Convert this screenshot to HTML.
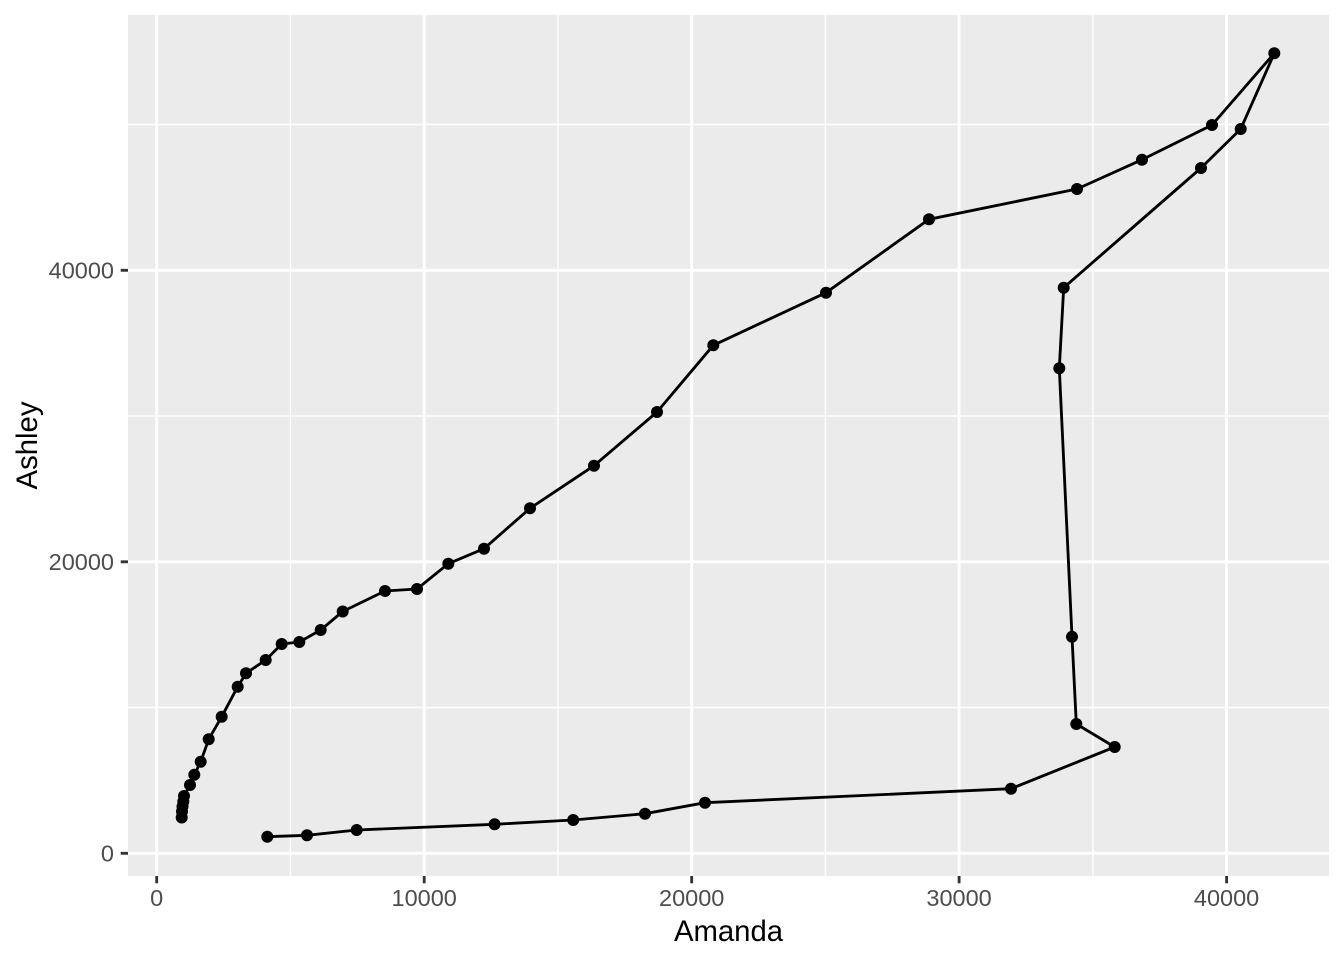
<!DOCTYPE html>
<html><head><meta charset="utf-8"><style>
html,body{margin:0;padding:0;background:#fff;}
svg{display:block;}
text{font-family:"Liberation Sans",Arial,sans-serif;}
</style></head><body>
<svg width="1344" height="960" viewBox="0 0 1344 960" xmlns="http://www.w3.org/2000/svg">
<rect x="0" y="0" width="1344" height="960" fill="#fff"/>
<rect x="128" y="15" width="1201" height="861" fill="#EBEBEB"/>
<g stroke="#fff" stroke-width="1.42" fill="none">
<line x1="290.4" y1="15" x2="290.4" y2="876"/>
<line x1="557.9" y1="15" x2="557.9" y2="876"/>
<line x1="825.4" y1="15" x2="825.4" y2="876"/>
<line x1="1092.9" y1="15" x2="1092.9" y2="876"/>
<line x1="128" y1="707.5" x2="1329" y2="707.5"/>
<line x1="128" y1="416" x2="1329" y2="416"/>
<line x1="128" y1="124.5" x2="1329" y2="124.5"/>
</g>
<g stroke="#fff" stroke-width="2.84" fill="none">
<line x1="156.7" y1="15" x2="156.7" y2="876"/>
<line x1="424.2" y1="15" x2="424.2" y2="876"/>
<line x1="691.7" y1="15" x2="691.7" y2="876"/>
<line x1="959.1" y1="15" x2="959.1" y2="876"/>
<line x1="1226.6" y1="15" x2="1226.6" y2="876"/>
<line x1="128" y1="853.3" x2="1329" y2="853.3"/>
<line x1="128" y1="561.8" x2="1329" y2="561.8"/>
<line x1="128" y1="270.3" x2="1329" y2="270.3"/>
</g>
<polyline fill="none" stroke="#000" stroke-width="2.84" stroke-linejoin="round" points="181.7,817.5 182,811.5 182.5,806.5 183.3,801.5 184,796 190,785 194.3,774.8 200.7,761.7 208.7,739.3 221.7,716.7 237.7,686.7 246,673.3 265.7,660 281.7,644 299.3,642 320.7,630 342.7,611.5 385,591 417,589 448.3,563.7 484,548.7 530,508.3 594,465.7 657,412 713.3,345.3 826,292.7 929,219.3 1077,189 1142,159.7 1212,125 1274.3,53.3 1240.7,129 1201,168 1063.7,287.7 1059.3,368.3 1072,636.7 1076.3,724 1114.7,747 1011,788.7 705,802.7 645,813.7 573.2,820 494.6,824.3 356.7,830 307,835.3 267.3,836.7"/>
<g fill="#000">
<circle cx="181.7" cy="817.5" r="6"/><circle cx="182" cy="811.5" r="6"/><circle cx="182.5" cy="806.5" r="6"/><circle cx="183.3" cy="801.5" r="6"/><circle cx="184" cy="796" r="6"/><circle cx="190" cy="785" r="6"/><circle cx="194.3" cy="774.8" r="6"/><circle cx="200.7" cy="761.7" r="6"/><circle cx="208.7" cy="739.3" r="6"/><circle cx="221.7" cy="716.7" r="6"/><circle cx="237.7" cy="686.7" r="6"/><circle cx="246" cy="673.3" r="6"/><circle cx="265.7" cy="660" r="6"/><circle cx="281.7" cy="644" r="6"/><circle cx="299.3" cy="642" r="6"/><circle cx="320.7" cy="630" r="6"/><circle cx="342.7" cy="611.5" r="6"/><circle cx="385" cy="591" r="6"/><circle cx="417" cy="589" r="6"/><circle cx="448.3" cy="563.7" r="6"/><circle cx="484" cy="548.7" r="6"/><circle cx="530" cy="508.3" r="6"/><circle cx="594" cy="465.7" r="6"/><circle cx="657" cy="412" r="6"/><circle cx="713.3" cy="345.3" r="6"/><circle cx="826" cy="292.7" r="6"/><circle cx="929" cy="219.3" r="6"/><circle cx="1077" cy="189" r="6"/><circle cx="1142" cy="159.7" r="6"/><circle cx="1212" cy="125" r="6"/><circle cx="1274.3" cy="53.3" r="6"/><circle cx="1240.7" cy="129" r="6"/><circle cx="1201" cy="168" r="6"/><circle cx="1063.7" cy="287.7" r="6"/><circle cx="1059.3" cy="368.3" r="6"/><circle cx="1072" cy="636.7" r="6"/><circle cx="1076.3" cy="724" r="6"/><circle cx="1114.7" cy="747" r="6"/><circle cx="1011" cy="788.7" r="6"/><circle cx="705" cy="802.7" r="6"/><circle cx="645" cy="813.7" r="6"/><circle cx="573.2" cy="820" r="6"/><circle cx="494.6" cy="824.3" r="6"/><circle cx="356.7" cy="830" r="6"/><circle cx="307" cy="835.3" r="6"/><circle cx="267.3" cy="836.7" r="6"/>
</g>
<g stroke="#333" stroke-width="2.84">
<line x1="156.7" y1="876" x2="156.7" y2="883.3"/>
<line x1="424.2" y1="876" x2="424.2" y2="883.3"/>
<line x1="691.7" y1="876" x2="691.7" y2="883.3"/>
<line x1="959.1" y1="876" x2="959.1" y2="883.3"/>
<line x1="1226.6" y1="876" x2="1226.6" y2="883.3"/>
<line x1="120.7" y1="853.3" x2="128" y2="853.3"/>
<line x1="120.7" y1="561.8" x2="128" y2="561.8"/>
<line x1="120.7" y1="270.3" x2="128" y2="270.3"/>
</g>
<g fill="#4D4D4D" font-size="23.5" text-anchor="middle">
<text x="156.7" y="906">0</text>
<text x="424.2" y="906">10000</text>
<text x="691.7" y="906">20000</text>
<text x="959.1" y="906">30000</text>
<text x="1226.6" y="906">40000</text>
</g>
<g fill="#4D4D4D" font-size="23.5" text-anchor="end">
<text x="114" y="861.7">0</text>
<text x="114" y="570.2">20000</text>
<text x="114" y="278.7">40000</text>
</g>
<text x="728.5" y="941" font-size="29.3" text-anchor="middle" fill="#000">Amanda</text>
<text transform="translate(37,445.5) rotate(-90)" x="0" y="0" font-size="29.3" text-anchor="middle" fill="#000">Ashley</text>
</svg>
</body></html>
